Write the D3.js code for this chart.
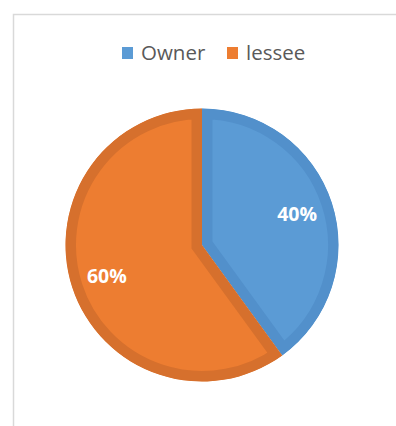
<!DOCTYPE html>
<html>
<head>
<meta charset="utf-8">
<script src="https://cdn.jsdelivr.net/npm/d3@7"></script>
<style>
  html, body { margin: 0; padding: 0; background: #fff; }
  svg { display: block; }
</style>
</head>
<body>
<svg id="chart" width="396" height="426"></svg>
<script>
// Ownership split
const categories = ["Owner", "lessee"];
const shares = [40, 60];
const fills = ["#5B9BD5", "#ED7D31"];
const edges = ["#5290CB", "#D6702D"];

const svg = d3.select("#chart");
const W = 396, H = 426;

// Chart area frame
svg.append("rect")
  .attr("x", 13.5).attr("y", 14.5)
  .attr("width", W).attr("height", H)
  .attr("fill", "#fff")
  .attr("stroke", "#D9D9D9")
  .attr("stroke-width", 1.5);

const cx = 202, cy = 245, R = 136.5, band = 10.5;

const pie = d3.pie().sort(null).value(d => d)(shares);
const arc = d3.arc().innerRadius(0).outerRadius(R);
const labelArc = d3.arc().innerRadius(100).outerRadius(100);

const defs = svg.append("defs");
const g = svg.append("g").attr("transform", `translate(${cx},${cy})`);

// Each slice gets a darker inner rim: a wide stroke clipped to the slice itself
pie.forEach((p, i) => {
  const id = "slice-clip-" + i;
  defs.append("clipPath").attr("id", id)
    .append("path").attr("d", arc(p));
  g.append("path")
    .attr("d", arc(p))
    .attr("fill", fills[i])
    .attr("stroke", edges[i])
    .attr("stroke-width", band * 2)
    .attr("stroke-linejoin", "miter")
    .attr("clip-path", `url(#${id})`);
});

g.selectAll("text.val")
  .data(pie)
  .join("text")
  .attr("class", "val")
  .attr("transform", d => `translate(${labelArc.centroid(d)})`)
  .attr("text-anchor", "middle")
  .attr("dy", "0.36em")
  .attr("fill", "#fff")
  .attr("font-family", "'Open Sans', sans-serif")
  .attr("font-weight", "bold")
  .attr("font-size", 19.5)
  .text(d => d.data + "%");

// Legend
const legend = svg.append("g");
const legendItems = [{x: 122, label: categories[0]}, {x: 227, label: categories[1]}];
legendItems.forEach((it, i) => {
  legend.append("rect")
    .attr("x", it.x).attr("y", 47)
    .attr("width", 11).attr("height", 12)
    .attr("fill", fills[i]);
  legend.append("text")
    .attr("x", it.x + 19).attr("y", 60)
    .attr("fill", "#595959")
    .attr("font-family", "'Open Sans', sans-serif")
    .attr("font-size", 20.5)
    .text(it.label);
});
</script>
</body>
</html>
